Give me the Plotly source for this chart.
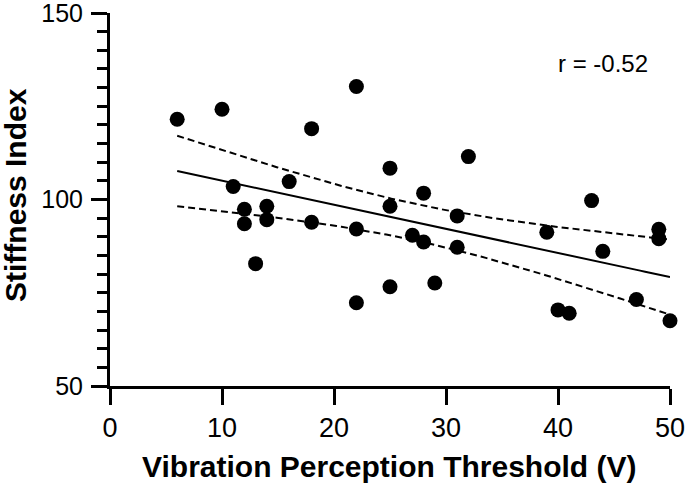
import numpy as np
import plotly.graph_objects as go

# Data
vpt = [6, 10, 11, 12, 12, 13, 14, 14, 16, 18, 18, 22, 22, 22, 25, 25, 25,
       27, 28, 28, 29, 31, 31, 32, 39, 40, 41, 43, 44, 47, 49, 49, 50]
stiffness = [121.5, 124.2, 103.5, 97.4, 93.5, 82.8, 98.2, 94.6, 104.8, 119.0,
             93.9, 130.3, 92.1, 72.3, 108.4, 98.2, 76.6, 90.4, 101.7, 88.6,
             77.6, 95.6, 87.2, 111.5, 91.2, 70.4, 69.5, 99.7, 86.1, 73.2,
             92.0, 89.5, 67.5]
x_ticks = [0, 10, 20, 30, 40, 50]
y_ticks = [50, 100, 150]
r_label = "r = -0.52"

x = np.array(vpt, dtype=float)
y = np.array(stiffness, dtype=float)
n = len(x)
slope, intercept = np.polyfit(x, y, 1)
xs = np.linspace(x.min(), x.max(), 100)
fit = intercept + slope * xs
resid = y - (intercept + slope * x)
s = np.sqrt(np.sum(resid ** 2) / (n - 2))
t_crit = 2.0395  # t(0.975, df=31)
se = s * np.sqrt(1.0 / n + (xs - x.mean()) ** 2 / np.sum((x - x.mean()) ** 2))
upper = fit + t_crit * se
lower = fit - t_crit * se

FONT = "Liberation Sans, Arial, sans-serif"

fig = go.Figure()
fig.add_trace(go.Scatter(x=xs, y=upper, mode="lines",
                         line=dict(color="black", width=2, dash="7px,4px"),
                         hoverinfo="skip", showlegend=False))
fig.add_trace(go.Scatter(x=xs, y=lower, mode="lines",
                         line=dict(color="black", width=2, dash="7px,4px"),
                         hoverinfo="skip", showlegend=False))
fig.add_trace(go.Scatter(x=xs, y=fit, mode="lines",
                         line=dict(color="black", width=2),
                         hoverinfo="skip", showlegend=False))
fig.add_trace(go.Scatter(x=vpt, y=stiffness, mode="markers",
                         marker=dict(color="black", size=15, line=dict(width=0)),
                         cliponaxis=False, showlegend=False))

W, H = 685, 486
L, R, T, B = 110, 15, 13, 100
pw, ph = W - L - R, H - T - B


def px(xp):
    return (xp - L) / pw


def py(yp):
    return (H - B - yp) / ph


fig.update_layout(
    width=W, height=H,
    margin=dict(l=L, r=R, t=T, b=B, autoexpand=False),
    plot_bgcolor="white", paper_bgcolor="white",
    font=dict(family=FONT, color="black"),
    showlegend=False,
    xaxis=dict(range=[0, 50], tickvals=x_ticks, ticktext=[str(v) for v in x_ticks],
               showline=True, linewidth=3, linecolor="black",
               ticks="outside", ticklen=16, tickwidth=3, tickcolor="black",
               tickfont=dict(size=27, family=FONT), automargin=False,
               ticklabeloverflow="allow",
               showgrid=False, zeroline=False, fixedrange=True),
    yaxis=dict(range=[50, 150], tickvals=y_ticks, ticktext=[str(v) for v in y_ticks],
               showline=True, linewidth=3, linecolor="black",
               ticks="outside", ticklen=16, tickwidth=3, tickcolor="black",
               tickfont=dict(size=25, family=FONT), automargin=False,
               ticklabeloverflow="allow", ticklabelstandoff=3,
               minor=dict(dtick=5, tick0=50, ticks="outside", ticklen=10,
                          tickwidth=3, tickcolor="black", showgrid=False),
               showgrid=False, zeroline=False, fixedrange=True),
    annotations=[
        dict(text="<b>Vibration Perception Threshold (V)</b>", xref="paper", yref="paper",
             x=px(389.5), y=py(467), xanchor="center", yanchor="middle",
             showarrow=False, font=dict(size=30, family=FONT)),
        dict(text="<b>Stiffness Index</b>", xref="paper", yref="paper",
             x=px(15), y=py(195), xanchor="center", yanchor="middle",
             textangle=-90, showarrow=False, font=dict(size=30, family=FONT)),
        dict(text=r_label, xref="paper", yref="paper",
             x=px(603), y=py(64), xanchor="center", yanchor="middle",
             showarrow=False, font=dict(size=24, family=FONT)),
    ],
)

fig.write_html("out.html",
               config={"displayModeBar": False, "staticPlot": True},
               post_script="document.body.style.margin='0';"
                           "document.body.style.overflow='hidden';")
